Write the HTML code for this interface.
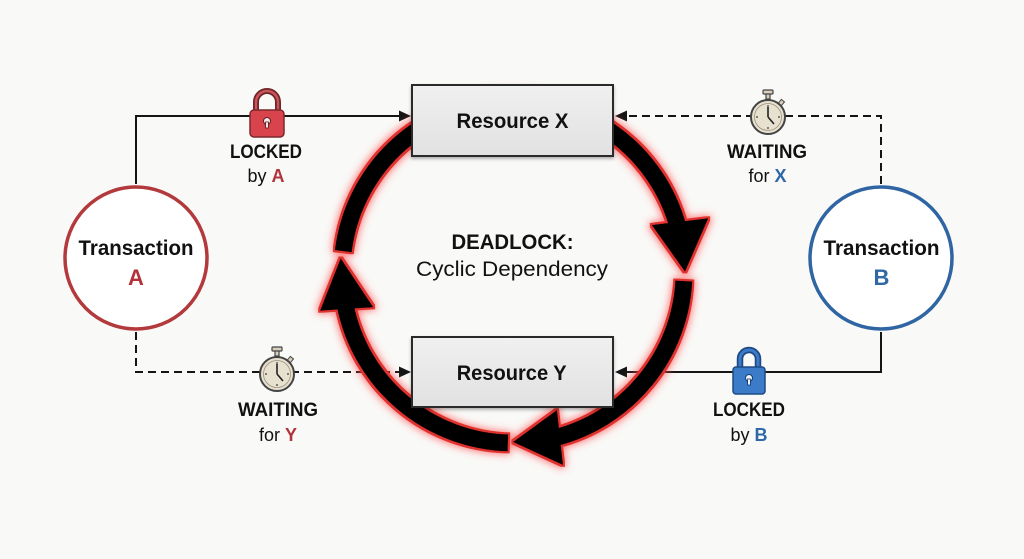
<!DOCTYPE html>
<html><head><meta charset="utf-8">
<style>
html,body{margin:0;padding:0;background:#f9f9f7;}
svg{display:block;}
text{font-family:"Liberation Sans",Arial,sans-serif;}
</style></head><body>
<svg width="1024" height="559" viewBox="0 0 1024 559" xmlns="http://www.w3.org/2000/svg">
<defs>
 <filter id="glow" x="-20%" y="-20%" width="140%" height="140%">
  <feMorphology in="SourceAlpha" operator="dilate" radius="2" result="d1"/>
  <feFlood flood-color="#e0322e" result="red"/>
  <feComposite in="red" in2="d1" operator="in" result="outline"/>
  <feMorphology in="SourceAlpha" operator="dilate" radius="3" result="d2"/>
  <feGaussianBlur in="d2" stdDeviation="4" result="b"/>
  <feFlood flood-color="#ff4a4a" flood-opacity="0.7" result="pink"/>
  <feComposite in="pink" in2="b" operator="in" result="halo"/>
  <feMerge><feMergeNode in="halo"/><feMergeNode in="outline"/><feMergeNode in="SourceGraphic"/></feMerge>
 </filter>
 <linearGradient id="boxg" x1="0" y1="0" x2="0" y2="1">
  <stop offset="0" stop-color="#f0f0f0"/><stop offset="1" stop-color="#e1e1e1"/>
 </linearGradient>
 <filter id="shadow" x="-10%" y="-10%" width="120%" height="140%">
  <feGaussianBlur in="SourceAlpha" stdDeviation="1.5"/>
  <feOffset dy="2" result="o"/>
  <feComponentTransfer><feFuncA type="linear" slope="0.3"/></feComponentTransfer>
  <feMerge><feMergeNode/><feMergeNode in="SourceGraphic"/></feMerge>
 </filter>
</defs>

<rect x="0" y="0" width="1024" height="559" fill="#f9f9f7"/>

<!-- connectors -->
<g fill="none" stroke="#151515" stroke-width="2">
 <path d="M136 184 V116 H401"/>
 <path d="M881 184 V116 H625" stroke-dasharray="8 5"/>
 <path d="M136 332 V372 H401" stroke-dasharray="8 5"/>
 <path d="M881 332 V372 H625"/>
</g>
<g fill="#151515">
 <polygon points="399,110.5 411,116 399,121.5"/>
 <polygon points="627,110.5 615,116 627,121.5"/>
 <polygon points="399,366.5 411,372 399,377.5"/>
 <polygon points="627,366.5 615,372 627,377.5"/>
</g>

<!-- cycle ring -->
<g filter="url(#glow)">
 <g fill="none" stroke="#000" stroke-width="17" stroke-linecap="butt">
  <path d="M343.3 251.2 A171 171 0 0 1 678.2 227.7"/>
  <path d="M683.8 281 A171 171 0 0 1 554.4 437.9"/>
  <path d="M507.9 442.9 A171 171 0 0 1 345.4 306.1"/>
 </g>
 <g fill="#000">
  <polygon points="651.7,225 708.3,218.3 685,271.7"/>
  <polygon points="557,410 563,465 513,442"/>
  <polygon points="320,310.7 373.3,307.3 340.7,258.3"/>
 </g>
</g>

<!-- resource boxes -->
<g filter="url(#shadow)">
 <rect x="412" y="85" width="201" height="71" fill="url(#boxg)" stroke="#2a2a2a" stroke-width="2"/>
 <rect x="412" y="337" width="201" height="70" fill="url(#boxg)" stroke="#2a2a2a" stroke-width="2"/>
</g>
<text x="512.5" y="128" font-size="21" font-weight="bold" text-anchor="middle" fill="#111" textLength="112" lengthAdjust="spacingAndGlyphs">Resource X</text>
<text x="511.7" y="380" font-size="21" font-weight="bold" text-anchor="middle" fill="#111" textLength="110" lengthAdjust="spacingAndGlyphs">Resource Y</text>

<!-- center text -->
<text x="512.5" y="249" font-size="21" font-weight="bold" text-anchor="middle" fill="#111" textLength="122" lengthAdjust="spacingAndGlyphs">DEADLOCK:</text>
<text x="512" y="276" font-size="21" text-anchor="middle" fill="#111" textLength="192" lengthAdjust="spacingAndGlyphs">Cyclic Dependency</text>

<!-- transactions -->
<circle cx="136" cy="258" r="71" fill="#fff" stroke="#b2393c" stroke-width="3.5"/>
<circle cx="881" cy="258" r="71" fill="#fff" stroke="#2f65a2" stroke-width="3.5"/>
<text x="136" y="255" font-size="21" font-weight="bold" text-anchor="middle" fill="#111" textLength="115" lengthAdjust="spacingAndGlyphs">Transaction</text>
<text x="136" y="285" font-size="22" font-weight="bold" text-anchor="middle" fill="#b2333a">A</text>
<text x="881.5" y="255" font-size="21" font-weight="bold" text-anchor="middle" fill="#111" textLength="116" lengthAdjust="spacingAndGlyphs">Transaction</text>
<text x="881.5" y="285" font-size="22" font-weight="bold" text-anchor="middle" fill="#2f68a6">B</text>

<!-- red lock -->
<g>
 <path d="M256 112 V102 a11 11 0 0 1 22 0 V112" fill="none" stroke="#6e2528" stroke-width="6"/>
 <path d="M256 112 V102 a11 11 0 0 1 22 0 V112" fill="none" stroke="#c9545a" stroke-width="2.5"/>
 <rect x="250" y="110" width="34" height="27" rx="4" fill="#d9434b" stroke="#7a2a2e" stroke-width="1.5"/>
 <circle cx="267" cy="121" r="3.5" fill="#f6e6e6" stroke="#5a1f22" stroke-width="1"/>
 <rect x="265.6" y="122" width="2.8" height="6" fill="#f6e6e6" stroke="#5a1f22" stroke-width="0.8"/>
</g>
<text x="266" y="158" font-size="19" font-weight="bold" text-anchor="middle" fill="#111" textLength="72" lengthAdjust="spacingAndGlyphs">LOCKED</text>
<text x="266" y="182" font-size="18" text-anchor="middle" fill="#111">by <tspan font-weight="bold" fill="#b2333a">A</tspan></text>

<!-- blue lock -->
<g>
 <path d="M740 368 V359 a9 9 0 0 1 18 0 V368" fill="none" stroke="#1d4a85" stroke-width="6.5"/>
 <path d="M740 368 V359 a9 9 0 0 1 18 0 V368" fill="none" stroke="#3b7bc8" stroke-width="3"/>
 <rect x="733" y="367" width="32" height="27" rx="3" fill="#3b7bc8" stroke="#1d4a85" stroke-width="1.5"/>
 <circle cx="749" cy="378" r="3.5" fill="#eef4fb" stroke="#143a6a" stroke-width="1"/>
 <rect x="747.6" y="379" width="2.8" height="6" fill="#eef4fb" stroke="#143a6a" stroke-width="0.8"/>
</g>
<text x="749" y="416" font-size="19" font-weight="bold" text-anchor="middle" fill="#111" textLength="72" lengthAdjust="spacingAndGlyphs">LOCKED</text>
<text x="749" y="441" font-size="18" text-anchor="middle" fill="#111">by <tspan font-weight="bold" fill="#2f68a6">B</tspan></text>

<!-- clock top -->
<g transform="translate(768,117)">
 <rect x="-2" y="-24" width="4" height="6" fill="#d8d0bc" stroke="#444" stroke-width="1.2"/>
 <rect x="-5" y="-27" width="10" height="4" rx="1" fill="#d8d0bc" stroke="#444" stroke-width="1.2"/>
 <rect x="11" y="-17" width="4" height="5" fill="#d8d0bc" stroke="#444" stroke-width="1" transform="rotate(40 13 -14)"/>
 <circle r="17" fill="#e8e1cf" stroke="#444" stroke-width="2"/>
 <circle r="13.5" fill="none" stroke="#9a927f" stroke-width="0.8"/>
 <g fill="#333"><circle cx="0" cy="-11" r="0.9"/><circle cx="11" cy="0" r="0.9"/><circle cx="0" cy="11" r="0.9"/><circle cx="-11" cy="0" r="0.9"/></g>
 <line x1="0" y1="0" x2="0" y2="-10" stroke="#222" stroke-width="1.6"/>
 <line x1="0" y1="0" x2="6" y2="7" stroke="#222" stroke-width="1.6"/>
</g>
<text x="767" y="158" font-size="19" font-weight="bold" text-anchor="middle" fill="#111" textLength="80" lengthAdjust="spacingAndGlyphs">WAITING</text>
<text x="767.5" y="182" font-size="18" text-anchor="middle" fill="#111">for <tspan font-weight="bold" fill="#2f68a6">X</tspan></text>

<!-- clock bottom -->
<g transform="translate(277,374)">
 <rect x="-2" y="-24" width="4" height="6" fill="#d8d0bc" stroke="#444" stroke-width="1.2"/>
 <rect x="-5" y="-27" width="10" height="4" rx="1" fill="#d8d0bc" stroke="#444" stroke-width="1.2"/>
 <rect x="11" y="-17" width="4" height="5" fill="#d8d0bc" stroke="#444" stroke-width="1" transform="rotate(40 13 -14)"/>
 <circle r="17" fill="#e8e1cf" stroke="#444" stroke-width="2"/>
 <circle r="13.5" fill="none" stroke="#9a927f" stroke-width="0.8"/>
 <g fill="#333"><circle cx="0" cy="-11" r="0.9"/><circle cx="11" cy="0" r="0.9"/><circle cx="0" cy="11" r="0.9"/><circle cx="-11" cy="0" r="0.9"/></g>
 <line x1="0" y1="0" x2="0" y2="-10" stroke="#222" stroke-width="1.6"/>
 <line x1="0" y1="0" x2="6" y2="7" stroke="#222" stroke-width="1.6"/>
</g>
<text x="278" y="416" font-size="19" font-weight="bold" text-anchor="middle" fill="#111" textLength="80" lengthAdjust="spacingAndGlyphs">WAITING</text>
<text x="278" y="441" font-size="18" text-anchor="middle" fill="#111">for <tspan font-weight="bold" fill="#b2333a">Y</tspan></text>
</svg>
</body></html>
